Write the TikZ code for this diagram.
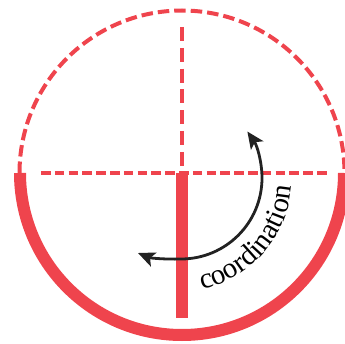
\documentclass[tikz,border=0pt]{standalone}
\usepackage{fontspec}
\setmainfont{Liberation Serif}
\usetikzlibrary{arrows.meta,decorations.text}
\definecolor{myred}{RGB}{239,68,77}
\definecolor{myblack}{RGB}{34,34,34}
\newcommand{\coordfont}{\fontsize{29}{29}\selectfont}
\tikzset{
  dashthin/.style={myred, line width=3.8pt, dash pattern=on 9.5pt off 4.3pt},
  dashcirc/.style={myred, line width=4pt, dash pattern=on 11.5pt off 5pt},
  thickred/.style={myred, line width=12pt},
  turnarrow/.style={myblack, line width=2.8pt, {Stealth[length=17pt,width=15pt,inset=4pt]}-{Stealth[length=17pt,width=15pt,inset=4pt]}}
}
\begin{document}
\begin{tikzpicture}[x=1pt,y=1pt]
\useasboundingbox (0,0) rectangle (345,343);
\coordinate (C) at (182,170);
\coordinate (A) at (181,165);
\coordinate (T) at (178,165);
% dashed upper half circle
\draw[dashcirc] (C) ++(180:162.5) arc[start angle=180, end angle=0, radius=162.5];
% solid lower half circle
\draw[thickred] (C) ++(180:162) arc[start angle=180, end angle=360, radius=162];
% dashed horizontal and vertical
\coordinate (hl) at (41,170);
\coordinate (hr) at (328,170);
\draw[dashthin] (hl) -- (hr);
\coordinate (vt) at (182,316);
\coordinate (vb) at (182,176);
\draw[dashthin, dash pattern=on 14pt off 6.8pt] (vt) -- (vb);
% thick vertical bar
\coordinate (bt) at (182,170);
\coordinate (bb) at (182,25);
\draw[thickred, line width=12.5pt] (bt) -- (bb);
% rotation arrow
\coordinate (tipL) at (138,90);
\coordinate (bot) at (181,84);
\draw[turnarrow] (tipL) .. controls (150,85) and (165,83.5) .. (bot)
  arc[start angle=-90, end angle=35, radius=81];
% curved label
\path[decorate, decoration={text along path, text align=center,
  text={|\coordfont|coordination}}]
  (T) ++(-85:114) arc[start angle=-85, end angle=3, radius=114];
\end{tikzpicture}
\end{document}
